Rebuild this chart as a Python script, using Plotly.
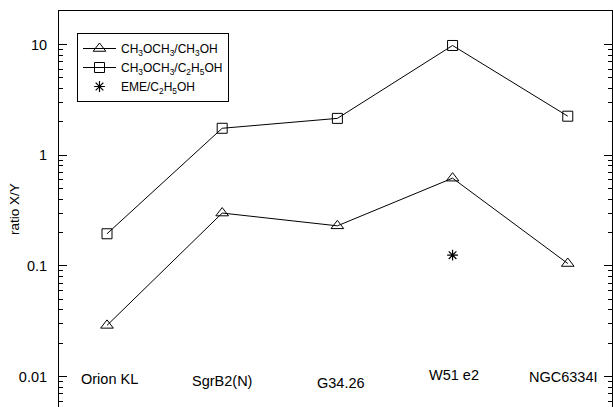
import plotly.graph_objects as go

# Sources and abundance ratios
categories = ["Orion KL", "SgrB2(N)", "G34.26", "W51 e2", "NGC6334I"]
dme_meoh = [0.029, 0.30, 0.23, 0.62, 0.105]          # CH3OCH3/CH3OH
dme_etoh = [0.195, 1.75, 2.15, 9.8, 2.25]            # CH3OCH3/C2H5OH
eme_source = ["W51 e2"]
eme_etoh = [0.125]                                   # EME/C2H5OH

series_names = [
    "CH<sub>3</sub>OCH<sub>3</sub>/CH<sub>3</sub>OH",
    "CH<sub>3</sub>OCH<sub>3</sub>/C<sub>2</sub>H<sub>5</sub>OH",
    "EME/C<sub>2</sub>H<sub>5</sub>OH",
]

# y-axis ticks
major_vals = [0.01, 0.1, 1, 10]
major_text = ["0.01", "0.1", "1", "10"]
minor_vals = [m * d for d in [0.001, 0.01, 0.1, 1, 10] for m in range(2, 10)]

# source-name label placement (log10 height, horizontal nudge in px)
label_logy = [-2.02, -2.04, -2.055, -1.985, -2.0]
label_dx = [2, 0, 4, 1, -4]

FONT = "Liberation Sans, Arial, Helvetica, sans-serif"
INK = "black"

fig = go.Figure()
fig.add_trace(go.Scatter(
    x=categories, y=dme_meoh, mode="lines+markers", name=series_names[0],
    line=dict(color=INK, width=1),
    marker=dict(symbol="triangle-up-open", size=11, color=INK, line=dict(width=1, color=INK)),
))
fig.add_trace(go.Scatter(
    x=categories, y=dme_etoh, mode="lines+markers", name=series_names[1],
    line=dict(color=INK, width=1),
    marker=dict(symbol="square-open", size=10, color=INK, line=dict(width=1, color=INK)),
))
fig.add_trace(go.Scatter(
    x=eme_source, y=eme_etoh, mode="markers", name=series_names[2],
    marker=dict(symbol="asterisk-open", size=9, color=INK, line=dict(width=1.2, color=INK)),
))

for name, ly, dx in zip(categories, label_logy, label_dx):
    fig.add_annotation(
        x=name, y=ly, xref="x", yref="y", text=name, showarrow=False,
        xshift=dx, font=dict(family=FONT, size=14.5, color=INK),
    )

fig.add_annotation(
    x=(14 - 59) / 553, y=0.5, xref="paper", yref="paper", text="ratio X/Y",
    textangle=-90, showarrow=False, xanchor="center", yanchor="middle",
    font=dict(family=FONT, size=13.5, color=INK),
)

fig.update_layout(
    width=613, height=407,
    margin=dict(l=59, r=1, t=11, b=0),
    paper_bgcolor="white", plot_bgcolor="white",
    font=dict(family=FONT, color=INK),
    showlegend=True,
    legend=dict(
        x=(77 - 59) / 553, y=1 - (33 - 11) / 396, xanchor="left", yanchor="top",
        bordercolor=INK, borderwidth=1, bgcolor="white",
        font=dict(family=FONT, size=12, color=INK),
        tracegroupgap=0, itemwidth=33,
    ),
    xaxis=dict(
        type="category", categoryorder="array", categoryarray=categories,
        range=[-0.4167, 4.384], side="top",
        showline=True, linecolor=INK, linewidth=1,
        ticks="", showticklabels=False, showgrid=False, zeroline=False,
    ),
    yaxis=dict(
        type="log", range=[-2.275, 1.3026],
        showline=True, linecolor=INK, linewidth=1, mirror="ticks",
        tickmode="array", tickvals=major_vals, ticktext=major_text,
        ticks="inside", ticklen=8, tickwidth=1, tickcolor=INK,
        ticklabelstandoff=8,
        tickfont=dict(family=FONT, size=14.5, color=INK),
        minor=dict(tickmode="array", tickvals=minor_vals, ticks="inside",
                   ticklen=4, tickwidth=1, tickcolor=INK, showgrid=False),
        showgrid=False, zeroline=False,
    ),
)

fig.write_html("out.html")
